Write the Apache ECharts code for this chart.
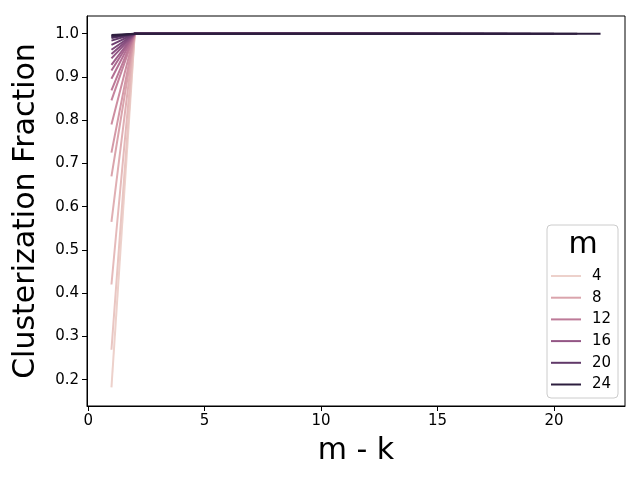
<!DOCTYPE html>
<html>
<head>
<meta charset="utf-8">
<script src="https://cdn.jsdelivr.net/npm/echarts@6/dist/echarts.min.js"></script>
<style>html,body{margin:0;padding:0;background:#fff;}#c{width:640px;height:480px;}</style>
</head>
<body>
<div id="c"></div>
<script>
// hue values (m)
const mValues = [4,5,6,7,8,9,10,11,12,13,14,15,16,17,18,19,20,21,22,23,24];
// clusterization fraction at m - k = 1, for each m
const startFractions = [0.182,0.269,0.42,0.565,0.67,0.725,0.79,0.846,0.869,0.896,0.915,0.928,0.943,0.953,0.963,0.974,0.984,0.99,0.993,0.995,0.997];
// fraction for m - k >= 2 (all lines sit at 1.0)
const plateauFraction = 1.0;
const xTicks = [0,5,10,15,20];
const yTicks = [0.2,0.3,0.4,0.5,0.6,0.7,0.8,0.9,1.0];
const legendValues = ['4','8','12','16','20','24'];

function cubehelix(x){
  const gamma=1, hue=0.8, start=0, rot=0.4;
  const xg=Math.pow(x,gamma);
  const a=hue*xg*(1-xg)/2;
  const phi=2*Math.PI*(start/3+rot*x);
  const f=(p0,p1)=>Math.min(1,Math.max(0,xg+a*(p0*Math.cos(phi)+p1*Math.sin(phi))));
  const r=f(-0.14861,1.78277), g=f(-0.29227,-0.90649), b=f(1.97294,0);
  return 'rgb('+Math.round(r*255)+','+Math.round(g*255)+','+Math.round(b*255)+')';
}
const mMin=Math.min(...mValues), mMax=Math.max(...mValues);
function colorFor(m){ const t=(m-mMin)/(mMax-mMin); return cubehelix(0.85-0.7*t); }

const series = mValues.map((m,i)=>{
  const data=[[1,startFractions[i]]];
  for(let x=2;x<=m-2;x++) data.push([x,plateauFraction]);
  return {name:String(m),type:'line',data:data,showSymbol:false,symbol:'none',
    lineStyle:{width:2,color:colorFor(m)},itemStyle:{color:colorFor(m)},z:2+i/100,animation:false};
});

const FONT='DejaVu Sans';
const chart=echarts.init(document.getElementById('c'),null,{renderer:'canvas'});
chart.setOption({
  animation:false,
  backgroundColor:'#fff',
  grid:{left:87,right:15,top:16,bottom:74,show:true,borderColor:'#000',borderWidth:1,backgroundColor:'transparent'},
  xAxis:{type:'value',min:-0.05,max:23.05,
    name:'m - k',nameLocation:'middle',nameGap:30,nameTextStyle:{fontFamily:FONT,fontSize:30,color:'#000'},
    axisLine:{show:true,onZero:false,lineStyle:{color:'#000',width:1}},
    axisTick:{show:true,customValues:xTicks,length:5,lineStyle:{color:'#000'}},
    axisLabel:{customValues:xTicks,fontFamily:FONT,fontSize:15,color:'#000',margin:8},
    splitLine:{show:false}},
  yAxis:{type:'value',min:0.139,max:1.041,
    name:'Clusterization Fraction',nameLocation:'middle',nameGap:46,nameTextStyle:{fontFamily:FONT,fontSize:30,color:'#000'},
    axisLine:{show:true,onZero:false,lineStyle:{color:'#000',width:1}},
    axisTick:{show:true,customValues:yTicks,length:5,lineStyle:{color:'#000'}},
    axisLabel:{customValues:yTicks,fontFamily:FONT,fontSize:15,color:'#000',margin:8,formatter:v=>v.toFixed(1)},
    splitLine:{show:false}},
  legend:{data:legendValues,orient:'vertical',left:551,top:268,itemWidth:30,itemHeight:2,icon:'rect',itemGap:5.7,z:20,
    textStyle:{fontFamily:FONT,fontSize:15,color:'#000',lineHeight:16,padding:[0,0,0,6]},padding:0,selectedMode:false},
  graphic:[
    {type:'rect',shape:{x:547,y:225,width:71,height:173,r:4},style:{fill:'rgba(255,255,255,0.8)',stroke:'#cccccc',lineWidth:1},z:3},
    {type:'text',x:583,y:245,style:{text:'m',fontFamily:FONT,fontSize:30,fill:'#000',textAlign:'center',textVerticalAlign:'middle'},z:21}
  ],
  series:series
});
</script>
</body>
</html>
